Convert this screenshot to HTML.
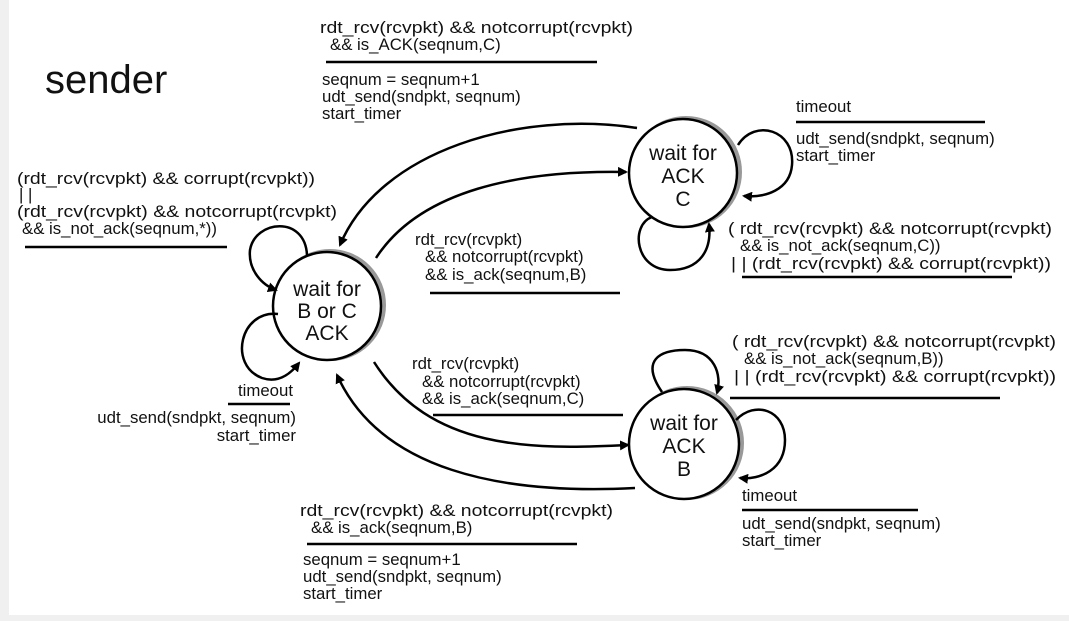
<!DOCTYPE html>
<html><head><meta charset="utf-8"><style>
html,body{margin:0;padding:0;background:#fff;}
svg{display:block;}
text{font-family:"Liberation Sans",Arial,sans-serif;font-size:16.8px;fill:#111;}
</style></head><body>
<svg width="1069" height="621" viewBox="0 0 1069 621" xmlns="http://www.w3.org/2000/svg">
<defs>
<marker id="ah" markerWidth="10" markerHeight="10" refX="8" refY="5" orient="auto" markerUnits="userSpaceOnUse">
<path d="M0,0 L10,5 L0,10 z" fill="#000"/>
</marker>
</defs>
<rect x="0" y="0" width="1069" height="621" fill="#fff"/>
<rect x="0" y="0" width="9" height="621" fill="#f0f0f0"/>
<rect x="0" y="615" width="1069" height="6" fill="#f0f0f0"/>

<text x="45" y="93" style="font-size:40px">sender</text>

<g fill="none">
<circle cx="330" cy="305" r="54" stroke="#999" stroke-width="4"/>
<circle cx="327" cy="306" r="54" stroke="#000" stroke-width="2.5" fill="#fff"/>
<circle cx="686" cy="172" r="54" stroke="#999" stroke-width="4"/>
<circle cx="683" cy="173" r="54" stroke="#000" stroke-width="2.5" fill="#fff"/>
<circle cx="687" cy="443" r="55" stroke="#999" stroke-width="4"/>
<circle cx="684" cy="444" r="55" stroke="#000" stroke-width="2.5" fill="#fff"/>
</g>
<g text-anchor="middle">
<text x="327" y="296" style="font-size:21px">wait for</text>
<text x="327" y="318" style="font-size:21px">B or C</text>
<text x="327" y="340" style="font-size:21px">ACK</text>
<text x="683" y="160" style="font-size:21px">wait for</text>
<text x="683" y="183" style="font-size:21px">ACK</text>
<text x="683" y="206" style="font-size:21px">C</text>
<text x="684" y="430" style="font-size:21px">wait for</text>
<text x="684" y="453" style="font-size:21px">ACK</text>
<text x="684" y="476" style="font-size:21px">B</text>
</g>

<g fill="none" stroke="#000" stroke-width="2.5" marker-end="url(#ah)">
<path d="M637,128 C520,110 380,150 340,245"/>
<path d="M376,258 C420,190 520,170 626,172"/>
<path d="M374,362 C430,450 530,450 628,445"/>
<path d="M635,488 C500,495 380,470 337,375"/>
<path d="M307,255 C305,215 255,220 250,250 C248,270 262,285 276,290"/>
<path d="M278,314 C240,310 228,365 262,378 C280,384 292,372 299,363"/>
<path d="M738,145 C755,118 795,130 792,165 C790,190 765,198 744,196"/>
<path d="M652,217 C630,225 635,270 670,270 C700,270 712,250 709,224"/>
<path d="M662,392 C640,360 660,350 685,350 C715,350 722,375 717,393"/>
<path d="M736,420 C755,400 785,410 785,440 C785,470 760,480 740,478"/>
</g>

<g stroke="#000" stroke-width="2.5">
<line x1="326" y1="62" x2="597" y2="62"/>
<line x1="25" y1="247" x2="227" y2="247"/>
<line x1="430" y1="293" x2="620" y2="293"/>
<line x1="796" y1="122" x2="985" y2="122"/>
<line x1="742" y1="277" x2="1012" y2="277"/>
<line x1="730" y1="398" x2="1000" y2="398"/>
<line x1="742" y1="510" x2="918" y2="510"/>
<line x1="228" y1="404" x2="290" y2="404"/>
<line x1="433" y1="415" x2="623" y2="415"/>
<line x1="307" y1="544" x2="577" y2="544"/>
</g>

<g lengthAdjust="spacingAndGlyphs">
<text x="320" y="33" textLength="313" lengthAdjust="spacingAndGlyphs">rdt_rcv(rcvpkt) &amp;&amp; notcorrupt(rcvpkt)</text>
<text x="330" y="50">&amp;&amp; is_ACK(seqnum,C)</text>
<text x="322" y="85">seqnum = seqnum+1</text>
<text x="322" y="102">udt_send(sndpkt, seqnum)</text>
<text x="322" y="119">start_timer</text>

<text x="17" y="184" textLength="298" lengthAdjust="spacingAndGlyphs">(rdt_rcv(rcvpkt) &amp;&amp; corrupt(rcvpkt))</text>
<text x="19" y="200">| |</text>
<text x="17" y="217" textLength="320" lengthAdjust="spacingAndGlyphs">(rdt_rcv(rcvpkt) &amp;&amp; notcorrupt(rcvpkt)</text>
<text x="22" y="234">&amp;&amp; is_not_ack(seqnum,*))</text>

<text x="415" y="245">rdt_rcv(rcvpkt)</text>
<text x="425" y="262">&amp;&amp; notcorrupt(rcvpkt)</text>
<text x="425" y="280">&amp;&amp; is_ack(seqnum,B)</text>

<text x="796" y="112">timeout</text>
<text x="796" y="144">udt_send(sndpkt, seqnum)</text>
<text x="796" y="161">start_timer</text>

<text x="728" y="234" textLength="324" lengthAdjust="spacingAndGlyphs">( rdt_rcv(rcvpkt) &amp;&amp; notcorrupt(rcvpkt)</text>
<text x="740" y="251">&amp;&amp; is_not_ack(seqnum,C))</text>
<text x="731" y="269" textLength="320" lengthAdjust="spacingAndGlyphs">| |  (rdt_rcv(rcvpkt) &amp;&amp; corrupt(rcvpkt))</text>

<text x="732" y="347" textLength="324" lengthAdjust="spacingAndGlyphs">( rdt_rcv(rcvpkt) &amp;&amp; notcorrupt(rcvpkt)</text>
<text x="744" y="364">&amp;&amp; is_not_ack(seqnum,B))</text>
<text x="734" y="382" textLength="322" lengthAdjust="spacingAndGlyphs">| | (rdt_rcv(rcvpkt) &amp;&amp; corrupt(rcvpkt))</text>

<text x="742" y="501">timeout</text>
<text x="742" y="529">udt_send(sndpkt, seqnum)</text>
<text x="742" y="546">start_timer</text>

<text x="293" y="396" text-anchor="end">timeout</text>
<text x="296" y="423" text-anchor="end">udt_send(sndpkt, seqnum)</text>
<text x="296" y="441" text-anchor="end">start_timer</text>

<text x="412" y="369">rdt_rcv(rcvpkt)</text>
<text x="422" y="387">&amp;&amp; notcorrupt(rcvpkt)</text>
<text x="422" y="404">&amp;&amp; is_ack(seqnum,C)</text>

<text x="300" y="516" textLength="313" lengthAdjust="spacingAndGlyphs">rdt_rcv(rcvpkt) &amp;&amp; notcorrupt(rcvpkt)</text>
<text x="311" y="533">&amp;&amp; is_ack(seqnum,B)</text>
<text x="303" y="565">seqnum = seqnum+1</text>
<text x="303" y="582">udt_send(sndpkt, seqnum)</text>
<text x="303" y="599">start_timer</text>
</g>
</svg>
</body></html>
